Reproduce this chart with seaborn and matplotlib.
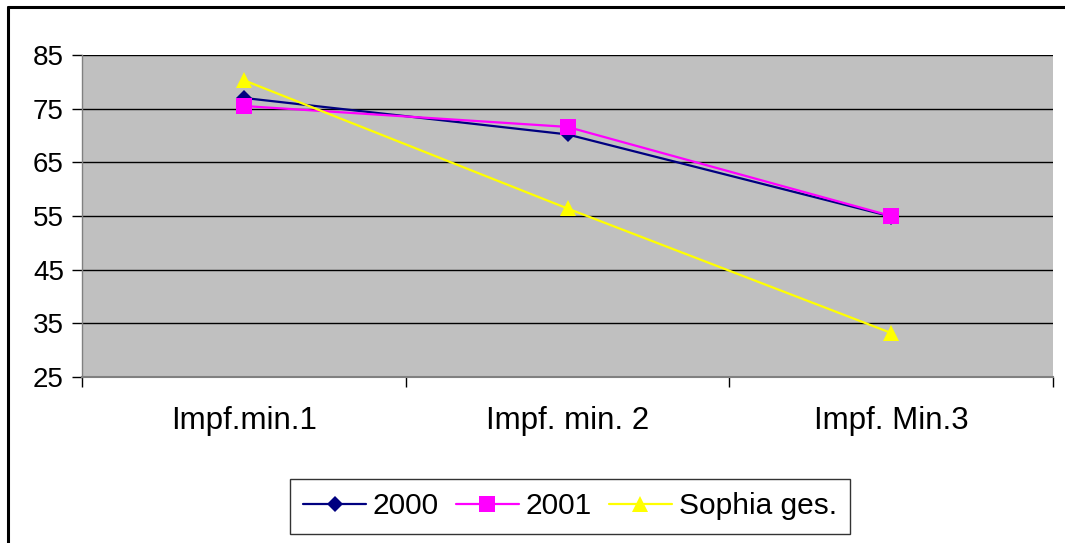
import matplotlib
matplotlib.use("Agg")
import matplotlib.pyplot as plt
import matplotlib.lines as mlines
import seaborn as sns
import pandas as pd

categories = ["Impf.min.1", "Impf. min. 2", "Impf. Min.3"]
series_names = ["2000", "2001", "Sophia ges."]
values_2000 = [77.0, 70.2, 54.9]
values_2001 = [75.5, 71.6, 55.0]
values_sophia = [80.3, 56.4, 33.2]
y_ticks = [25, 35, 45, 55, 65, 75, 85]

rows = []
for name, vals in zip(series_names, [values_2000, values_2001, values_sophia]):
    for i, v in enumerate(vals):
        rows.append({"pos": i, "value": v, "series": name})
df = pd.DataFrame(rows)

sns.set_theme(style="white")
plt.rcParams["font.family"] = ["Liberation Sans", "DejaVu Sans"]
plt.rcParams["text.color"] = "black"

fig = plt.figure(figsize=(10.65, 5.43), dpi=100)
ax = fig.add_axes([82 / 1065, 1 - 377 / 543, (1053 - 82) / 1065, (377 - 55) / 543])
ax.set_facecolor("#C0C0C0")

palette = {"2000": "#000080", "2001": "#FF00FF", "Sophia ges.": "#FFFF00"}
markers = {"2000": "D", "2001": "s", "Sophia ges.": "^"}
sizes = {"2000": 8.5, "2001": 12, "Sophia ges.": 12}
leg_sizes = {"2000": 8.5, "2001": 11, "Sophia ges.": 11}

sns.lineplot(data=df, x="pos", y="value", hue="series", style="series",
             markers=markers, dashes=False, palette=palette, ax=ax,
             linewidth=1.6, markersize=11, markeredgewidth=0, legend=False,
             zorder=3)
for line, name in zip(ax.get_lines(), series_names):
    line.set_markersize(sizes[name])

ax.set_xlim(-0.5, 2.5)
ax.set_ylim(25, 85)
ax.set_yticks(y_ticks)
ax.set_yticklabels([str(t) for t in y_ticks], fontsize=20)
ax.set_xticks(range(len(categories)))
ax.set_xticklabels(categories, fontsize=22.5)
ax.set_xticks([-0.5, 0.5, 1.5, 2.5], minor=True)
ax.tick_params(axis="x", which="major", length=0, pad=21, labelcolor="black")
ax.tick_params(axis="x", which="minor", length=7, width=1, color="black", direction="out", bottom=True)
ax.tick_params(axis="y", which="major", length=7, width=1, color="black", direction="out", left=True,
               pad=6, labelcolor="black")
ax.set_xlabel("")
ax.set_ylabel("")
ax.grid(axis="y", color="black", linewidth=1.0)
ax.set_axisbelow(True)
for s in ["top", "right"]:
    ax.spines[s].set_visible(False)
ax.spines["left"].set_color("#808080")
ax.spines["bottom"].set_color("#808080")
ax.spines["left"].set_linewidth(1.0)
ax.spines["bottom"].set_linewidth(1.5)

handles = [mlines.Line2D([], [], color=palette[n], marker=markers[n], markersize=leg_sizes[n],
                         markeredgewidth=0, linewidth=1.6, label=n) for n in series_names]
leg = fig.legend(handles=handles, loc="center", bbox_to_anchor=(570 / 1065, 1 - 506.5 / 543),
                 ncol=3, fontsize=21.5, frameon=True, fancybox=False, handlelength=2.1,
                 handletextpad=0.23, columnspacing=0.57, borderpad=0.45, borderaxespad=0)
leg.get_frame().set_edgecolor("black")
leg.get_frame().set_linewidth(1.0)
for t in leg.get_texts():
    t.set_color("black")

fig.add_artist(mlines.Line2D([8 / 1065, 1.0], [1 - 7 / 543, 1 - 7 / 543], color="black", linewidth=2.2,
                             transform=fig.transFigure))
fig.add_artist(mlines.Line2D([8 / 1065, 8 / 1065], [0.0, 1 - 7 / 543], color="black", linewidth=2.2,
                             transform=fig.transFigure))

fig.savefig("out.png", dpi=100, facecolor="white")
